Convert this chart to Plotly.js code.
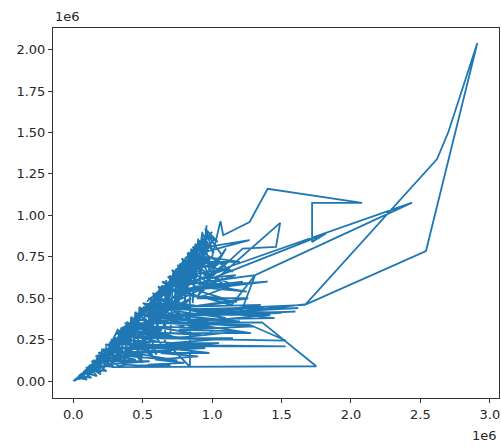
<!DOCTYPE html>
<html>
<head>
<meta charset="utf-8">
<script src="https://cdn.plot.ly/plotly-3.0.1.min.js"></script>
<style>html,body{margin:0;padding:0;background:#fff;}#chart{width:501px;height:448px;}</style>
</head>
<body>
<div id="chart"></div>
<script>
// values in units of 1e6
var xVals = [
 0.00,0.03,0.01,0.06,0.04,0.09,0.07,0.12,0.10,0.15,
 0.13,0.18,0.16,0.21,0.19,0.24,0.22,0.27,0.25,0.30,
 0.28,1.75,1.36,0.40,0.33,0.31,0.36,0.34,0.39,0.37,
 0.42,0.40,0.45,0.43,0.48,0.46,0.70,0.52,0.50,1.53,
 0.55,0.56,0.53,1.53,1.27,0.60,0.58,0.57,0.62,0.60,
 0.64,0.62,0.84,0.84,0.66,0.67,0.65,0.70,0.68,0.72,
 0.70,1.28,0.74,0.74,0.73,0.77,0.75,0.79,0.78,0.81,
 0.80,0.83,0.82,0.85,0.84,0.88,0.86,0.90,0.88,0.93,
 0.91,0.96,0.94,1.00,1.06,1.08,1.27,1.40,2.08,1.72,
 1.72,1.82,1.00,0.92,0.95,0.98,1.10,0.90,1.49,1.46,
 1.22,0.96,0.85,1.03,0.87,1.05,0.80,0.99,0.83,1.12,
 0.78,1.31,2.44,1.02,0.76,1.00,0.74,0.95,0.72,1.08,
 0.71,0.90,0.69,1.14,1.31,1.21,1.68,2.54,2.91,2.70,
 2.62,1.67,1.15,0.66,1.62,0.68,1.60,0.64,1.00,0.63,
 0.92,0.61,1.10,0.59,0.86,0.57,1.20,0.55,0.80,0.54,
 0.76,0.51,0.95,0.49,0.70,0.47,1.05,0.46,0.75,0.44,
 0.92,0.42,0.68,0.40,0.64,0.38,0.85,0.36,0.60,0.34,
 1.10,0.33,0.55,0.31,0.95,0.30,0.50,0.28,0.75,0.26,
 0.45,0.24,0.55,0.22,0.35,0.58,0.62,0.82,0.73,0.88,
 0.77,0.93,0.80,1.20,0.86,1.27,0.89,1.15,0.90,0.97,
 0.93,1.02,0.91,1.04,0.84,1.16,0.82,1.25,0.86,1.40,
 0.88,1.08,0.79,1.18,0.76,1.30,0.72,1.50,0.70,1.45,
 0.67,1.00,0.65,0.78,0.63,0.85,0.60,0.72,0.57,0.68,
 0.55,0.65,0.52,0.60,0.48,0.58,0.44,0.50,0.40,0.35,
 0.32,0.26,0.21,0.18,0.14,0.11,0.08,0.05,0.02,
 0.05,0.14,0.09,0.21,0.13,0.25,0.16,0.29,0.20,0.33,
 0.23,0.36,0.27,0.40,0.31,0.43,0.34,0.47,0.37,0.50,
 0.41,0.53,0.44,0.57,0.47,0.60,0.50,0.64,0.54,0.67,
 0.57,0.70,0.61,0.74,0.64,0.77,0.68,0.80,0.71,0.83,
 0.75,0.86,0.78,0.89,0.82,0.92,0.86,0.95,0.90,0.98,
 0.93,1.01,0.95,1.04,0.97,1.07,0.99,1.12,0.94,1.17,
 0.92,1.22,0.89,1.26,0.85,1.35,0.82,1.42,0.79,1.30,
 0.76,1.20,0.73,1.15,0.69,1.05,0.66,0.98,0.63,0.90,
 0.59,0.80,0.54,0.70,0.45,0.38,0.33,0.29,0.27,0.23,
 0.19,0.15,0.12,0.08,0.06,0.03,0.07,0.16,0.11,0.24,
 0.19,0.35,0.27,0.46,0.36,0.55,0.43,0.66,0.52,0.76,
 0.62,0.85,0.70,0.91,0.79,0.96,0.87,1.00,0.92,0.95,
 0.88,1.09,0.83,
 0.10,0.30,0.18,0.35,0.22,0.38,0.28,0.42,0.32,0.20,
 0.36,0.26,0.44,0.30,0.48,0.34,0.52,0.39,0.58,0.42,
 0.30,0.46,0.35,0.51,0.40,0.56,0.44,0.61,0.49,0.65,
 0.53,0.69,0.56,0.73,0.61,0.78,0.66,0.82,0.70,0.87,
 0.74,0.91,0.80,0.94,0.84,0.98,0.76,0.88,0.63,0.74,
 0.55,0.67,0.50,0.62,0.45,0.57,0.41,0.52,0.37,0.46,
 0.32,0.40,0.27,0.35,0.23,0.29,0.19,0.24,0.15,0.20,
 0.12,0.17,0.09,0.13,0.06,0.10,0.03,0.01
];
var yVals = [
 0.00,0.02,0.00,0.04,0.01,0.07,0.02,0.10,0.03,0.13,
 0.04,0.16,0.06,0.19,0.07,0.21,0.08,0.24,0.10,0.27,
 0.085,0.09,0.355,0.35,0.30,0.12,0.33,0.14,0.36,0.13,
 0.39,0.16,0.42,0.19,0.45,0.17,0.18,0.47,0.21,0.21,
 0.22,0.50,0.26,0.245,0.34,0.35,0.53,0.30,0.56,0.27,
 0.58,0.38,0.56,0.087,0.24,0.61,0.33,0.64,0.41,0.66,
 0.29,0.29,0.36,0.68,0.45,0.71,0.39,0.73,0.50,0.75,
 0.43,0.78,0.54,0.80,0.60,0.83,0.47,0.86,0.62,0.90,
 0.58,0.94,0.70,0.75,0.965,0.88,0.96,1.16,1.075,1.075,
 0.84,0.89,0.62,0.72,0.85,0.66,0.80,0.52,0.955,0.81,
 0.80,0.60,0.66,0.72,0.70,0.56,0.62,0.82,0.64,0.68,
 0.58,0.64,1.077,0.66,0.55,0.58,0.52,0.78,0.50,0.62,
 0.47,0.64,0.56,0.46,0.64,0.42,0.465,0.785,2.04,1.50,
 1.34,0.46,0.44,0.43,0.44,0.40,0.42,0.39,0.40,0.49,
 0.45,0.47,0.38,0.44,0.36,0.41,0.36,0.38,0.33,0.46,
 0.48,0.43,0.35,0.40,0.35,0.37,0.32,0.33,0.26,0.35,
 0.28,0.30,0.27,0.33,0.31,0.27,0.26,0.29,0.24,0.22,
 0.21,0.25,0.19,0.20,0.20,0.17,0.15,0.19,0.125,0.16,
 0.13,0.12,0.12,0.10,0.31,0.35,0.52,0.66,0.60,0.75,
 0.66,0.68,0.72,0.72,0.76,0.85,0.80,0.66,0.70,0.90,
 0.78,0.86,0.75,0.70,0.68,0.58,0.60,0.54,0.57,0.60,
 0.55,0.50,0.52,0.48,0.44,0.40,0.40,0.41,0.44,0.38,
 0.37,0.30,0.46,0.40,0.35,0.50,0.40,0.56,0.48,0.50,
 0.32,0.20,0.36,0.16,0.28,0.14,0.24,0.11,0.20,0.11,
 0.17,0.09,0.15,0.08,0.11,0.05,0.06,0.02,0.01,
 0.04,0.08,0.08,0.11,0.12,0.14,0.15,0.18,0.19,0.20,
 0.22,0.23,0.25,0.26,0.29,0.29,0.32,0.32,0.35,0.33,
 0.38,0.37,0.41,0.40,0.44,0.43,0.47,0.45,0.50,0.48,
 0.53,0.51,0.57,0.54,0.60,0.57,0.63,0.59,0.67,0.63,
 0.70,0.66,0.74,0.69,0.77,0.73,0.81,0.77,0.85,0.81,
 0.89,0.77,0.92,0.84,0.88,0.76,0.70,0.72,0.62,0.64,
 0.57,0.60,0.50,0.50,0.45,0.46,0.40,0.40,0.35,0.33,
 0.31,0.30,0.26,0.26,0.23,0.23,0.20,0.17,0.17,0.15,
 0.13,0.11,0.10,0.095,0.095,0.10,0.09,0.11,0.13,0.09,
 0.05,0.09,0.06,0.04,0.02,0.01,0.05,0.12,0.04,0.16,
 0.13,0.26,0.19,0.36,0.28,0.45,0.36,0.55,0.44,0.63,
 0.53,0.74,0.59,0.80,0.69,0.86,0.78,0.90,0.81,0.72,
 0.70,0.58,0.55,
 0.08,0.15,0.17,0.20,0.14,0.30,0.22,0.24,0.31,0.10,
 0.27,0.23,0.33,0.28,0.38,0.25,0.42,0.33,0.46,0.35,
 0.24,0.40,0.23,0.45,0.29,0.48,0.37,0.52,0.41,0.57,
 0.48,0.60,0.40,0.64,0.50,0.68,0.53,0.72,0.62,0.76,
 0.67,0.84,0.70,0.86,0.73,0.74,0.60,0.64,0.43,0.49,
 0.36,0.41,0.30,0.33,0.26,0.27,0.21,0.23,0.18,0.20,
 0.16,0.14,0.14,0.13,0.12,0.09,0.09,0.06,0.07,0.04,
 0.08,0.03,0.05,0.02,0.03,0.01,0.02,0.01
];
var xTicks = [0, 0.5, 1.0, 1.5, 2.0, 2.5, 3.0];
var xTickText = ["0.0", "0.5", "1.0", "1.5", "2.0", "2.5", "3.0"];
var yTicks = [0, 0.25, 0.5, 0.75, 1.0, 1.25, 1.5, 1.75, 2.0];
var yTickText = ["0.00", "0.25", "0.50", "0.75", "1.00", "1.25", "1.50", "1.75", "2.00"];
var offsetLabel = "1e6";

var fontFam = "DejaVu Sans, sans-serif";
var trace = {
  x: xVals, y: yVals, type: "scatter", mode: "lines",
  line: {color: "#1f77b4", width: 1.8},
  hoverinfo: "skip"
};
var axisCommon = {
  showgrid: false, zeroline: false, showline: true, mirror: true,
  linecolor: "#333", linewidth: 1, ticks: "outside", ticklen: 4,
  tickcolor: "#333", tickwidth: 1, tickmode: "array",
  tickfont: {family: fontFam, size: 13, color: "#262626"}
};
var layout = {
  width: 501, height: 448,
  margin: {l: 53, r: 2, t: 28, b: 50},
  paper_bgcolor: "#fff", plot_bgcolor: "#fff",
  showlegend: false,
  xaxis: Object.assign({}, axisCommon, {range: [-0.146, 3.066], tickvals: xTicks, ticktext: xTickText}),
  yaxis: Object.assign({}, axisCommon, {range: [-0.1015, 2.13], tickvals: yTicks, ticktext: yTickText}),
  annotations: [
    {text: offsetLabel, xref: "paper", yref: "paper", x: 0, y: 1, xanchor: "left", yanchor: "bottom",
     yshift: 2, showarrow: false, font: {family: fontFam, size: 13, color: "#262626"}},
    {text: offsetLabel, xref: "paper", yref: "paper", x: 1, y: 0, xanchor: "right", yanchor: "top",
     yshift: -28, showarrow: false, font: {family: fontFam, size: 13, color: "#262626"}}
  ]
};
Plotly.newPlot("chart", [trace], layout, {staticPlot: true, displayModeBar: false});
</script>
</body>
</html>
